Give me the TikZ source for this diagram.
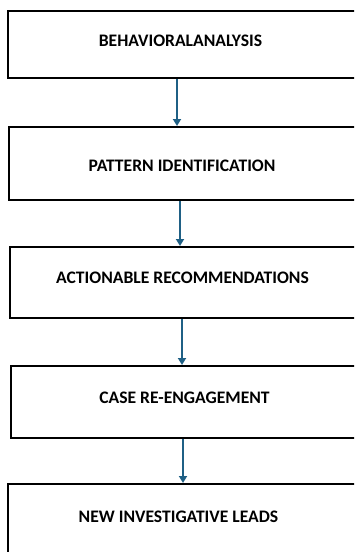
\documentclass[tikz,border=0pt]{standalone}
\usepackage{fontspec}
\setmainfont{Carlito}
\usetikzlibrary{arrows.meta}
\definecolor{flowblue}{RGB}{31,96,133}
\tikzset{
    stagebox/.style = {rectangle, line width=2pt, draw=black, fill=white, minimum width=352pt, inner sep=0pt},
    stagetext/.style = {align=center, font=\bfseries\fontsize{17.6}{20}\selectfont, text=black, inner sep=0pt},
    edgef/.style = {-{Triangle[width=8pt,length=7pt]}, line width=1.8pt, flowblue}
}
\begin{document}
\begin{tikzpicture}[x=1pt,y=1pt]
\useasboundingbox (0,0) rectangle (354,-552);
\clip (0,0) rectangle (354,-552);
\node[stagebox, minimum height=67pt] at (184.0, -44.5) (b1) {};
\node[stagebox, minimum height=73pt] at (185.0, -163.5) (b2) {};
\node[stagebox, minimum height=71pt] at (185.5, -282.5) (b3) {};
\node[stagebox, minimum height=72pt] at (187.0, -402.0) (b4) {};
\node[stagebox, minimum height=76pt] at (184.0, -522.0) (b5) {};
%
\node[stagetext] at (180.5, -41) (t1) {BEHAVIORALANALYSIS};
\node[stagetext] at (182.0, -166) (t2) {PATTERN IDENTIFICATION};
\node[stagetext] at (182.5, -278) (t3) {ACTIONABLE RECOMMENDATIONS};
\node[stagetext] at (184.5, -398) (t4) {CASE RE-ENGAGEMENT};
\node[stagetext] at (178.5, -517) (t5) {NEW INVESTIGATIVE LEADS};
%
\draw[edgef] ([xshift=-7pt]b1.south) -- ([xshift=-7pt]b1.south |- b2.north);
\draw[edgef] ([xshift=-5pt]b2.south) -- ([xshift=-5pt]b2.south |- b3.north);
\draw[edgef] ([xshift=-3.5pt]b3.south) -- ([xshift=-3.5pt]b3.south |- b4.north);
\draw[edgef] ([xshift=-4pt]b4.south) -- ([xshift=-4pt]b4.south |- b5.north);
\end{tikzpicture}
\end{document}
